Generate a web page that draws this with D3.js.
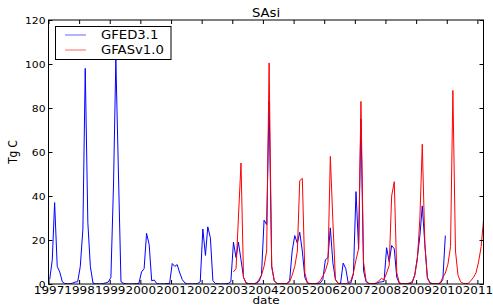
<!DOCTYPE html>
<html><head><meta charset="utf-8">
<script src="https://cdn.jsdelivr.net/npm/d3@7"></script>
<style>body{margin:0;background:#fff}svg text{font-family:"DejaVu Sans",sans-serif;fill:#000}</style>
</head><body><svg id="c" width="493" height="305"></svg>
<script>
// ---- data (monthly, Tg C) ----
const title = "SAsi";
const xLabel = "date";
const yLabel = "Tg C";
const seriesNames = ["GFED3.1", "GFASv1.0"];
const seriesColors = ["#0000ff", "#ff0000"];
const gfedStart = [1997, 0];
const gfedValues = [
  2, 11, 37, 8, 5.5, 1, 0.2, 0.1, 0.1, 0.4, 0.9, 1,          // 1997
  8, 25, 98, 28, 8, 0.5, 0.1, 0.05, 0.05, 0.2, 0.5, 0.9,      // 1998
  3, 45, 102, 50, 1, 0.3, 0.1, 0.05, 0.05, 0.1, 0.2, 0.3,     // 1999
  5.5, 7, 23, 18, 1.5, 1.8, 0.2, 0.05, 0.05, 0.1, 0.2, 0.3,   // 2000
  9.3, 8, 8.8, 5, 2, 0.5, 0.1, 0.05, 0.05, 0.1, 0.3, 1,       // 2001
  25, 13, 26, 21, 1.5, 0.2, 0.1, 0.05, 0.05, 0.1, 0.3, 1,     // 2002
  19, 12, 19, 11, 3, 0.5, 0.2, 0.1, 0.1, 0.3, 1.2, 4,         // 2003
  29, 27, 83, 8, 1.5, 0.3, 0.1, 0.05, 0.05, 0.2, 1.5, 15,     // 2004
  22, 18.5, 23.5, 15, 3, 0.5, 0.2, 0.1, 0.1, 0.2, 0.5, 2,     // 2005
  11, 12, 25.5, 9.5, 2, 0.3, 0.3, 9.5, 7, 0.3, 0.5, 4.5,      // 2006
  42, 16, 75, 6, 1, 0.3, 0.1, 0.05, 0.3, 0.8, 1, 1.2,         // 2007
  16.5, 10, 17.5, 16, 3, 0.3, 0.1, 0.05, 0.1, 0.2, 0.5, 4,    // 2008
  12, 22, 35.5, 18, 3, 0.5, 0.1, 0.05, 0.1, 0.3, 2, 22        // 2009
];
const gfasStart = [2003, 0];
const gfasValues = [
  5.5, 7, 30, 55, 3, 0.4, 0.2, 0.1, 0.1, 0.5, 2, 4,           // 2003
  8, 15, 100.5, 8, 1.5, 0.3, 0.1, 0.1, 0.1, 0.3, 1, 4,        // 2004
  8, 15, 47, 48, 5, 0.5, 0.2, 0.1, 0.1, 0.5, 1.5, 3.5,        // 2005
  6, 10, 58, 28, 2, 0.3, 0.1, 0.1, 0.2, 0.5, 1.5, 5,          // 2006
  11, 16, 83, 10, 1.5, 0.3, 0.1, 0.1, 0.5, 1.5, 2.5, 2,       // 2007
  5, 8.5, 40, 46.5, 5, 0.5, 0.2, 0.1, 0.2, 0.5, 1, 4,         // 2008
  11, 30, 63.5, 18, 2.5, 0.5, 0.2, 0.1, 0.2, 0.5, 3, 5,       // 2009
  9, 17, 88, 15, 4, 1, 0.3, 0.2, 0.3, 1.5, 3, 5,              // 2010
  10, 17, 29                                                  // 2011
];
const yTicks = [0, 20, 40, 60, 80, 100, 120];
const xTickYears = d3.range(1997, 2012);

// ---- layout ----
const L = 48.5, R = 483.5, T = 20, B = 284;
const SX = 1.2; // horizontal text stretch of the original picture
const svg = d3.select("#c");

const toSeries = (start, vals) => vals.map((v, i) => ({date: new Date(Date.UTC(start[0], start[1] + i, 15)), value: v}));
const gfed = toSeries(gfedStart, gfedValues);
const gfas = toSeries(gfasStart, gfasValues);

const x = d3.scaleUtc()
  .domain([new Date(Date.UTC(1997, 0, 1)), gfas[gfas.length - 1].date])
  .range([L, R]);
const y = d3.scaleLinear().domain([0, 120]).range([B, T]);

const line = d3.line().x(d => x(d.date)).y(d => y(d.value));
const plot = svg.append("g");
plot.append("defs").append("clipPath").attr("id", "clip")
  .append("rect").attr("x", L).attr("y", T).attr("width", R - L).attr("height", B - T);
const lines = plot.append("g").attr("clip-path", "url(#clip)");
[gfed, gfas].forEach((s, i) => {
  lines.append("path").datum(s).attr("d", line)
    .attr("fill", "none").attr("stroke", seriesColors[i]).attr("stroke-width", 1)
    .attr("stroke-linejoin", "round");
});

// ---- axes (ticks inward on all sides) ----
const xTickDates = xTickYears.map(yv => new Date(Date.UTC(yv, 0, 1)));
const fmt = d3.utcFormat("%Y");
const xb = svg.append("g").attr("transform", `translate(0,${B})`)
  .call(d3.axisBottom(x).tickValues(xTickDates).tickFormat(fmt).tickSizeInner(-4).tickSizeOuter(0).tickPadding(4));
const xt = svg.append("g").attr("transform", `translate(0,${T})`)
  .call(d3.axisTop(x).tickValues(xTickDates).tickFormat("").tickSizeInner(-4).tickSizeOuter(0));
const yl = svg.append("g").attr("transform", `translate(${L},0)`)
  .call(d3.axisLeft(y).tickValues(yTicks).tickSizeInner(-4).tickSizeOuter(0).tickPadding(4));
const yr = svg.append("g").attr("transform", `translate(${R},0)`)
  .call(d3.axisRight(y).tickValues(yTicks).tickFormat("").tickSizeInner(-4).tickSizeOuter(0));
[xb, xt, yl, yr].forEach(g => {
  g.select(".domain").remove();
  g.selectAll("line").attr("stroke", "#000").attr("stroke-width", 1);
});
xb.selectAll("text").attr("font-size", 10).attr("y", 3.3).attr("dy", "0.71em")
  .attr("transform", `scale(${SX},1)`);
yl.selectAll("text").attr("font-size", 9).attr("x", -3 / SX).attr("dy", "0.34em")
  .attr("transform", `scale(${SX},1)`);

// frame
svg.append("rect").attr("x", L).attr("y", T).attr("width", R - L).attr("height", B - T)
  .attr("fill", "none").attr("stroke", "#000").attr("stroke-width", 1);

// ---- labels ----
svg.append("text").attr("transform", `translate(${(L + R) / 2},17) scale(1.15,1)`)
  .attr("text-anchor", "middle").attr("font-size", 11.5).text(title);
svg.append("text").attr("transform", `translate(${(L + R) / 2},304) scale(${SX},1)`)
  .attr("text-anchor", "middle").attr("font-size", 10).text(xLabel);
svg.append("text").attr("transform", `translate(17,${(T + B) / 2}) rotate(-90) scale(1,${SX})`)
  .attr("text-anchor", "middle").attr("font-size", 10.5).text(yLabel);

// ---- legend ----
const lg = svg.append("g");
lg.append("rect").attr("x", 55.5).attr("y", 26.5).attr("width", 115.5).attr("height", 33)
  .attr("fill", "#fff").attr("stroke", "#000").attr("stroke-width", 1);
seriesNames.forEach((n, i) => {
  const cy = 35 + i * 15;
  lg.append("line").attr("x1", 65).attr("x2", 86).attr("y1", cy).attr("y2", cy)
    .attr("stroke", seriesColors[i]).attr("stroke-width", 1).attr("stroke-opacity", 0.6);
  lg.append("text").attr("transform", `translate(101,${cy + 4.3}) scale(1.15,1)`)
    .attr("font-size", 11.5).text(n);
});
</script></body></html>
